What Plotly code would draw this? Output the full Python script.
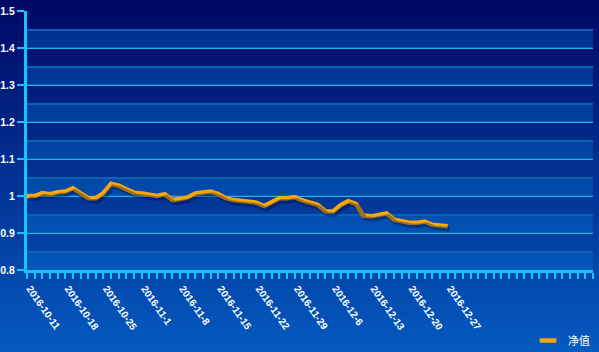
import plotly.graph_objects as go

# ---------------- data ----------------
x_labels = ['2016-10-11', '2016-10-18', '2016-10-25', '2016-11-1', '2016-11-8',
            '2016-11-15', '2016-11-22', '2016-11-29', '2016-12-6', '2016-12-13',
            '2016-12-20', '2016-12-27']
net_value = [1.000, 1.000, 1.008, 1.005, 1.010, 1.012, 1.021, 1.006, 0.994, 0.994,
             1.008, 1.033, 1.028, 1.018, 1.009, 1.007, 1.003, 1.000, 1.005, 0.989,
             0.992, 0.996, 1.007, 1.009, 1.012, 1.005, 0.994, 0.989, 0.986, 0.986,
             0.982, 0.973, 0.982, 0.994, 0.994, 0.997, 0.988, 0.983, 0.976, 0.959,
             0.958, 0.975, 0.986, 0.979, 0.947, 0.945, 0.949, 0.953, 0.936, 0.932,
             0.928, 0.928, 0.931, 0.922, 0.920, 0.918]
y_tick_vals = [0.8, 0.9, 1.0, 1.1, 1.2, 1.3, 1.4, 1.5]
y_tick_text = ['0.8', '0.9', '1', '1.1', '1.2', '1.3', '1.4', '1.5']
series_name = '净值'
N_CATEGORIES = 75
LABEL_STEP = 5

# ---------------- layout constants ----------------
W, H = 599, 352
ML, MR, MT, MB = 27, 4, 11, 79
PW = W - ML - MR
PH = H - MT - MB
DX, DY = 2, 3  # shadow offset in px

LINE_COLOR = '#f5a90f'
AXIS_COLOR = '#19c2fa'
FONT = 'Liberation Sans, Arial, sans-serif'

x_idx = list(range(len(net_value)))
tickvals = list(range(N_CATEGORIES))
ticktext = [x_labels[i // LABEL_STEP] if (i % LABEL_STEP == 0 and i // LABEL_STEP < len(x_labels)) else ''
            for i in tickvals]

shapes = []
# background vertical gradient (paper coords, covering full figure)
top_c = (0, 8, 100)
bot_c = (4, 90, 192)
STRIP = 2
for p in range(0, H, STRIP):
    t = (p + STRIP / 2) / H
    c = tuple(int(round(top_c[k] + (bot_c[k] - top_c[k]) * t)) for k in range(3))
    y_top = (MT + PH - p) / PH
    y_bot = (MT + PH - (p + STRIP + 0.5)) / PH
    shapes.append(dict(type='rect', xref='paper', yref='paper',
                       x0=-ML / PW - 0.01, x1=1 + MR / PW + 0.01, y0=y_bot, y1=y_top,
                       fillcolor='rgb(%d,%d,%d)' % c, line=dict(width=0), layer='below'))
# alternating split areas
for k in range(7):
    lo = 0.8 + 0.1 * k
    shapes.append(dict(type='rect', xref='paper', yref='y',
                       x0=0, x1=(PW - DX) / PW, y0=lo, y1=lo + 0.05,
                       fillcolor='rgba(0,120,215,0.33)', line=dict(width=0), layer='below'))

fig = go.Figure()

# shadow of the line (same data on offset axes)
fig.add_trace(go.Scatter(x=x_idx, y=net_value, mode='lines', xaxis='x2', yaxis='y2',
                         line=dict(color='rgba(0,5,45,0.35)', width=4.5, shape='linear'),
                         showlegend=False, hoverinfo='skip'))
# main line
fig.add_trace(go.Scatter(x=x_idx, y=net_value, mode='lines', name=series_name,
                         line=dict(color=LINE_COLOR, width=4.5),
                         showlegend=False))
# legend entry
fig.add_trace(go.Scatter(x=[None], y=[None], mode='markers', name=series_name,
                         marker=dict(symbol='line-ew', size=12, color=LINE_COLOR,
                                     line=dict(color=LINE_COLOR, width=4.5)),
                         showlegend=True))

fig.update_layout(
    width=W, height=H,
    margin=dict(l=ML, r=MR, t=MT, b=MB, pad=0, autoexpand=False),
    paper_bgcolor='#0a2a90',
    plot_bgcolor='rgba(0,0,0,0)',
    shapes=shapes,
    showlegend=True,
    legend=dict(x=(595 - ML) / PW, xanchor='right', y=(MT + PH - 340.5) / PH, yanchor='middle',
                bgcolor='rgba(0,0,0,0)', font=dict(color='white', size=11, family='Noto Sans CJK SC'),
                itemwidth=30),
    xaxis=dict(domain=[0, (PW - DX) / PW], range=[0, N_CATEGORIES - 1], automargin=False,
               tickmode='array', tickvals=tickvals, ticktext=ticktext,
               showline=True, linecolor=AXIS_COLOR, linewidth=3,
               ticks='outside', ticklen=6, tickwidth=2, tickcolor=AXIS_COLOR,
               tickangle=55, ticklabelshift=3,
               tickfont=dict(color='white', size=10, family=FONT, weight='bold'),
               showgrid=False, zeroline=False, fixedrange=True),
    yaxis=dict(domain=[DY / PH, 1], range=[0.8, 1.5], automargin=False,
               tickmode='array', tickvals=y_tick_vals, ticktext=y_tick_text,
               showline=True, linecolor=AXIS_COLOR, linewidth=3,
               ticks='outside', ticklen=7, tickwidth=2, tickcolor=AXIS_COLOR,
               tickfont=dict(color='white', size=10.5, family=FONT, weight='bold'),
               showgrid=True, gridcolor='#22b2f0', gridwidth=1,
               minor=dict(tickmode='linear', tick0=0.8, dtick=0.05, showgrid=True,
                          gridcolor='#0c62b2', gridwidth=2, ticks=''),
               zeroline=False, fixedrange=True),
    xaxis2=dict(domain=[DX / PW, 1], range=[0, N_CATEGORIES - 1], visible=False,
                anchor='y2', fixedrange=True),
    yaxis2=dict(domain=[0, (PH - DY) / PH], range=[0.8, 1.5], visible=False,
                anchor='x2', fixedrange=True),
)

fig.write_html('out.html', config=dict(displayModeBar=False))
